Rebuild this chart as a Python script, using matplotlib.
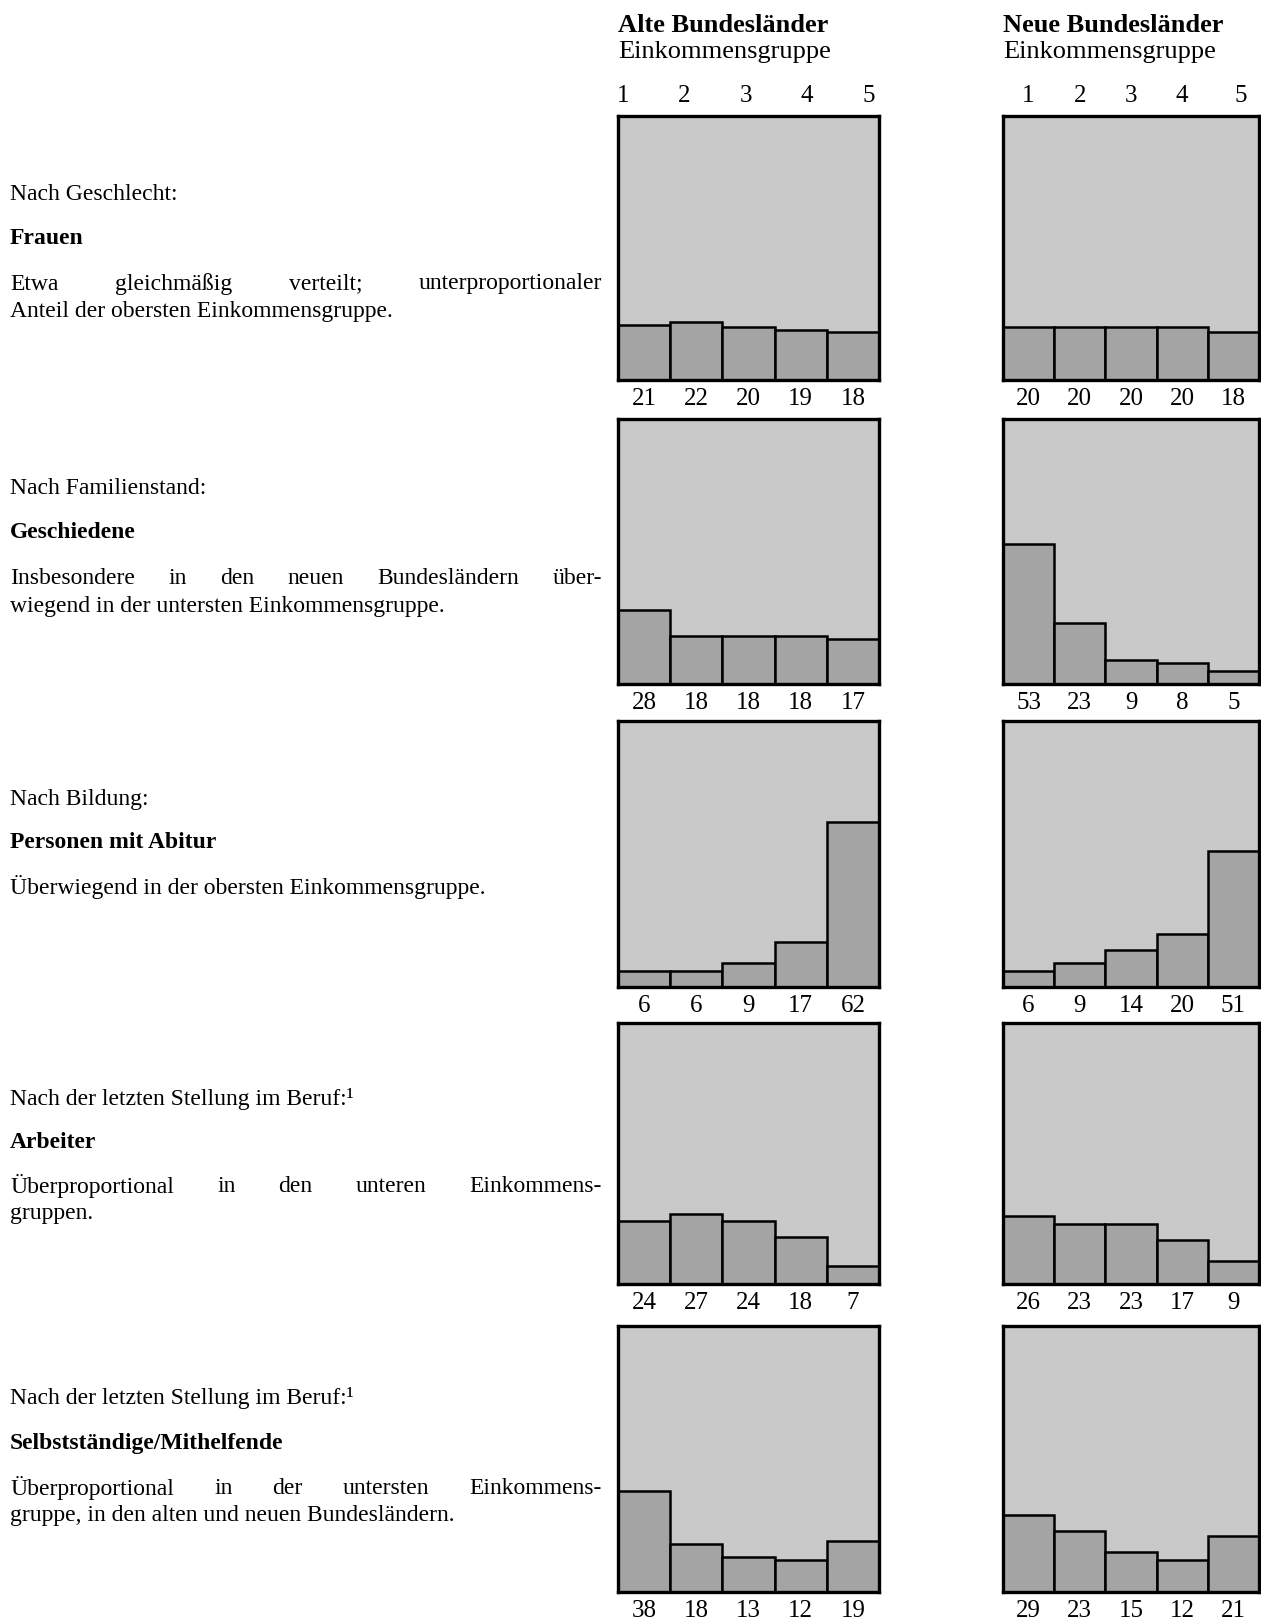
import matplotlib
matplotlib.use("Agg")
import matplotlib.pyplot as plt
import matplotlib.transforms as mtransforms
import numpy as np

plt.rcParams["font.family"] = ["Liberation Serif", "DejaVu Serif"]

W, H = 1261, 1621

groups = ["1", "2", "3", "4", "5"]
column_titles = ["Alte Bundesländer", "Neue Bundesländer"]
column_subtitle = "Einkommensgruppe"

alte = [
    [21, 22, 20, 19, 18],
    [28, 18, 18, 18, 17],
    [6, 6, 9, 17, 62],
    [24, 27, 24, 18, 7],
    [38, 18, 13, 12, 19],
]
neue = [
    [20, 20, 20, 20, 18],
    [53, 23, 9, 8, 5],
    [6, 9, 14, 20, 51],
    [26, 23, 23, 17, 9],
    [29, 23, 15, 12, 21],
]

headers = [
    "Nach Geschlecht:",
    "Nach Familienstand:",
    "Nach Bildung:",
    "Nach der letzten Stellung im Beruf:¹",
    "Nach der letzten Stellung im Beruf:¹",
]
groups_named = [
    "Frauen",
    "Geschiedene",
    "Personen mit Abitur",
    "Arbeiter",
    "Selbstständige/Mithelfende",
]
descriptions = [
    ["Etwa gleichmäßig verteilt; unterproportionaler",
     "Anteil der obersten Einkommensgruppe."],
    ["Insbesondere in den neuen Bundesländern über-",
     "wiegend in der untersten Einkommensgruppe."],
    ["Überwiegend in der obersten Einkommensgruppe."],
    ["Überproportional in den unteren Einkommens-",
     "gruppen."],
    ["Überproportional in der untersten Einkommens-",
     "gruppe, in den alten und neuen Bundesländern."],
]

# layout (pixels in the full-size picture)
col_x = [(618, 879), (1003, 1259)]
row_y = [(116, 380), (419, 684), (721, 987), (1023, 1284), (1326, 1592)]
text_y = [
    (194, 239, [284, 311]),
    (489, 533, [579, 606]),
    (799, 842, [887]),
    (1099, 1142, [1186, 1213]),
    (1398, 1443, [1488, 1515]),
]
text_x0, text_x1 = 10, 602
FS = 17
FS_HEAD = 19
FS_NUM = 18
BG = "#c9c9c9"
BAR = "#a4a4a4"


def fx(x):
    return x / W


def fy(y):
    return 1 - y / H


fig = plt.figure(figsize=(W / 100, H / 100), dpi=100)
fig.patch.set_facecolor("white")

data = [alte, neue]
tick_pos = [np.linspace(-0.4, 4.3, 5), np.array([0, 1, 2, 3, 4.15])]

for c in range(2):
    x0, x1 = col_x[c]
    for r in range(5):
        y0, y1 = row_y[r]
        ax = fig.add_axes([fx(x0), fy(y1), (x1 - x0) / W, (y1 - y0) / H])
        ax.set_facecolor(BG)
        xs = np.arange(len(groups))
        vals = data[c][r]
        ax.bar(xs, vals, width=1.0, color=BAR, edgecolor="black", linewidth=1.8)
        ax.set_xlim(-0.5, 4.5)
        ax.set_ylim(0, 100)
        ax.set_yticks([])
        ax.set_xticks([])
        for sp in ax.spines.values():
            sp.set_linewidth(2.4)
            sp.set_color("black")
        trans = mtransforms.blended_transform_factory(ax.transData, ax.transAxes)
        lab_y = -19 / (y1 - y0)
        for xi, v in zip(xs, vals):
            ax.text(xi, lab_y, str(v), transform=trans, ha="center", va="center",
                    fontsize=FS_NUM)
        if r == 0:
            for tp, g in zip(tick_pos[c], groups):
                ax.text(tp, 1 + 20 / (y1 - y0), g, transform=trans, ha="center",
                        va="center", fontsize=FS_NUM)
    fig.text(fx(x0), fy(26), column_titles[c], fontsize=FS_HEAD, fontweight="bold",
             ha="left", va="center")
    fig.text(fx(x0), fy(52), column_subtitle, fontsize=FS_HEAD, ha="left", va="center")

fig.canvas.draw()
renderer = fig.canvas.get_renderer()


def justified(line, y):
    words = line.split()
    texts = [fig.text(fx(text_x0), fy(y), w, fontsize=FS, ha="left", va="center")
             for w in words]
    widths = [t.get_window_extent(renderer).width for t in texts]
    gap = (text_x1 - text_x0 - sum(widths)) / (len(words) - 1)
    x = text_x0
    for t, w in zip(texts, widths):
        t.set_x(fx(x))
        x += w + gap


for r in range(5):
    hy, gy, dys = text_y[r]
    fig.text(fx(text_x0), fy(hy), headers[r], fontsize=FS, ha="left", va="center")
    fig.text(fx(text_x0), fy(gy), groups_named[r], fontsize=FS, fontweight="bold",
             ha="left", va="center")
    lines = descriptions[r]
    for i, (line, ly) in enumerate(zip(lines, dys)):
        if i < len(lines) - 1:
            justified(line, ly)
        else:
            fig.text(fx(text_x0), fy(ly), line, fontsize=FS, ha="left", va="center")

fig.savefig("out.png", dpi=100)
